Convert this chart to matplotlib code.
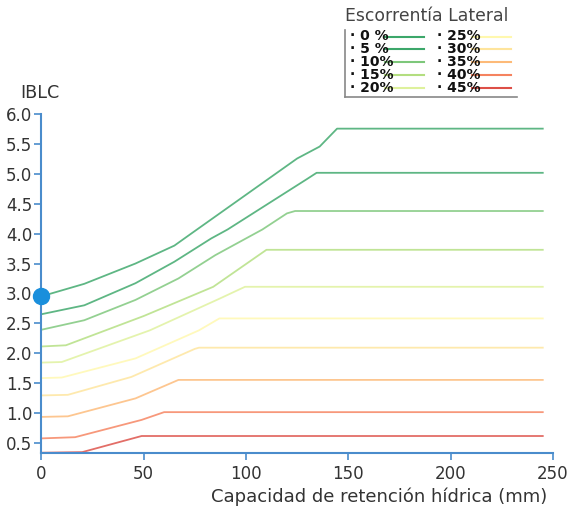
import numpy as np
import matplotlib.pyplot as plt
from matplotlib.lines import Line2D

plt.rcParams['font.family'] = ['DejaVu Sans']

# Escorrentía lateral (%) y puntos de cada curva (x: mm, y: IBLC)
labels = ["0 %", "5 %", "10%", "15%", "20%", "25%", "30%", "35%", "40%", "45%"]
colors = ["#1a9850", "#1a9850", "#66bd63", "#a6d96a", "#d9ef8b",
          "#fff7a0", "#fee08b", "#fdae61", "#f46d43", "#d73027"]

x_0 = [0, 21, 46, 65, 74, 125, 136, 144.5, 245]
y_0 = [2.95, 3.16, 3.50, 3.80, 4.02, 5.26, 5.46, 5.76, 5.76]
x_5 = [0, 21, 46, 65, 83, 91, 130, 134.5, 245]
y_5 = [2.65, 2.80, 3.17, 3.53, 3.92, 4.07, 4.92, 5.02, 5.02]
x_10 = [0, 21, 46, 67, 85, 108, 120, 124, 245]
y_10 = [2.39, 2.55, 2.89, 3.25, 3.64, 4.07, 4.34, 4.38, 4.38]
x_15 = [0, 12, 50, 84, 110, 245]
y_15 = [2.11, 2.13, 2.62, 3.11, 3.73, 3.73]
x_20 = [0, 10, 53, 87, 99.5, 245]
y_20 = [1.84, 1.85, 2.38, 2.91, 3.11, 3.11]
x_25 = [0, 10, 46, 77, 87, 245]
y_25 = [1.58, 1.59, 1.91, 2.38, 2.58, 2.58]
x_30 = [0, 13, 44, 75, 77, 245]
y_30 = [1.29, 1.30, 1.60, 2.07, 2.09, 2.09]
x_35 = [0, 13, 46, 67, 245]
y_35 = [0.93, 0.94, 1.24, 1.55, 1.55]
x_40 = [0, 16.5, 49, 60, 245]
y_40 = [0.57, 0.59, 0.88, 1.01, 1.01]
x_45 = [0, 20, 49, 245]
y_45 = [0.33, 0.34, 0.61, 0.61]

xs = [x_0, x_5, x_10, x_15, x_20, x_25, x_30, x_35, x_40, x_45]
ys = [y_0, y_5, y_10, y_15, y_20, y_25, y_30, y_35, y_40, y_45]

punto_x = [0]
punto_y = [2.95]

xticks = [0, 50, 100, 150, 200, 250]
yticks = [0.5, 1.0, 1.5, 2.0, 2.5, 3.0, 3.5, 4.0, 4.5, 5.0, 5.5, 6.0]

axis_color = "#4a8ccc"
text_color = "#333333"

fig = plt.figure(figsize=(5.77, 5.09), dpi=100)
ax = fig.add_axes([0.0716, 0.1094, 0.8868, 0.666])

for x, y, c in zip(xs, ys, colors):
    ax.plot(x, y, color=c, lw=1.3, alpha=0.7, solid_joinstyle="round",
            clip_on=False)

ax.plot(punto_x, punto_y, "o", color="#1a8fdc", ms=11.5, clip_on=False, zorder=5)

ax.set_xlim(0, 250)
ax.set_ylim(0.32, 6.0)
ax.set_xticks(xticks)
ax.set_yticks(yticks)
ax.set_yticklabels([f"{v:.1f}" for v in yticks])

for s in ["top", "right"]:
    ax.spines[s].set_visible(False)
for s in ["left", "bottom"]:
    ax.spines[s].set_color(axis_color)
    ax.spines[s].set_linewidth(1.5)
ax.tick_params(colors=axis_color, labelcolor=text_color, labelsize=12,
               length=5, width=1.2)
ax.tick_params(axis="x", pad=3.5)
ax.tick_params(axis="y", pad=1.5)

ax.set_xlabel("Capacidad de retención hídrica (mm)", fontsize=13,
              color=text_color)
ax.xaxis.set_label_coords(0.66, -0.1)
fig.text(0.035, 0.817, "IBLC", fontsize=12.6, color=text_color,
         ha="left", va="center")

# Leyenda dibujada a mano
fig.text(345 / 577, 1 - 16 / 509, "Escorrentía Lateral", fontsize=12.4,
         color="#444444", ha="left", va="center")
fig.add_artist(Line2D([345 / 577, 345 / 577], [1 - 30 / 509, 1 - 97 / 509],
                      color="#888888", lw=1.2))
fig.add_artist(Line2D([345 / 577, 517 / 577], [1 - 97 / 509, 1 - 97 / 509],
                      color="#888888", lw=1.2))
row_y = [36.5, 49, 61.5, 75, 88]
for i, (lab, c) in enumerate(zip(labels, colors)):
    col, row = divmod(i, 5)
    x0 = 350 + col * 87
    y = 1 - row_y[row] / 509
    fig.add_artist(Line2D([(x0 + 35) / 577, (x0 + 74) / 577], [y, y],
                          color=c, lw=1.5, alpha=0.85))
    fig.text(x0 / 577, y, "· " + lab, fontsize=10, fontweight="bold",
             color="#111111", ha="left", va="center")

fig.savefig("out.png", dpi=100)
